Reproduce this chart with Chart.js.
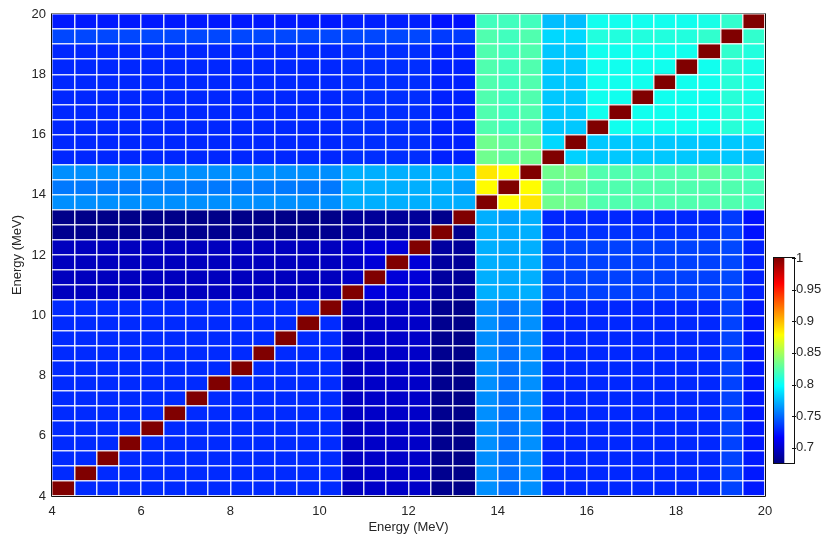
<!DOCTYPE html>
<html>
<head>
<meta charset="utf-8">
<script src="https://cdn.jsdelivr.net/npm/chart.js@4/dist/chart.umd.min.js"></script>
<style>
  html, body { margin: 0; padding: 0; background: #fff; overflow: hidden; }
  #wrap { position: relative; width: 821px; height: 536px; }
  #main { position: absolute; left: 0; top: 0; }
  #cbar { position: absolute; left: 766px; top: 240px; }
</style>
</head>
<body>
<div id="wrap">
  <canvas id="main" width="821" height="536"></canvas>
  <canvas id="cbar" width="55" height="240"></canvas>
</div>
<script>
// ---- data ----
const energyEdges = [4,4.5,5,5.5,6,6.5,7,7.5,8,8.5,9,9.5,10,10.5,11,11.5,12,12.5,13,13.5,14,14.5,15,15.5,16,16.5,17,17.5,18,18.5,19,19.5,20];
const axisTickLabels = [4,6,8,10,12,14,16,18,20];
const colorbarRange = [0.676, 1];
const colorbarTicks = [0.7,0.75,0.8,0.85,0.9,0.95,1];
const xTitle = 'Energy (MeV)';
const yTitle = 'Energy (MeV)';

// correlation matrix, row = y bin (4 MeV at bottom), column = x bin
const corr = [
 [1,.730,.730,.730,.730,.730,.730,.730,.730,.730,.730,.730,.730,.697,.699,.699,.699,.681,.679,.762,.752,.762,.729,.729,.729,.729,.729,.729,.729,.729,.737,.724],
 [.730,1,.730,.730,.730,.730,.730,.730,.730,.730,.730,.730,.730,.697,.699,.699,.699,.681,.679,.762,.752,.762,.729,.729,.729,.729,.729,.729,.729,.729,.737,.724],
 [.730,.730,1,.730,.730,.730,.730,.730,.730,.730,.730,.730,.730,.697,.699,.699,.699,.681,.679,.762,.752,.762,.729,.729,.729,.729,.729,.729,.729,.729,.737,.724],
 [.730,.730,.730,1,.730,.730,.730,.730,.730,.730,.730,.730,.730,.697,.699,.699,.699,.681,.679,.762,.752,.762,.729,.729,.729,.729,.729,.729,.729,.729,.737,.724],
 [.730,.730,.730,.730,1,.730,.730,.730,.730,.730,.730,.730,.730,.697,.699,.699,.699,.681,.679,.762,.752,.762,.729,.729,.729,.729,.729,.729,.729,.729,.737,.724],
 [.730,.730,.730,.730,.730,1,.730,.730,.730,.730,.730,.730,.730,.697,.699,.699,.699,.681,.679,.762,.752,.762,.729,.729,.729,.729,.729,.729,.729,.729,.737,.724],
 [.730,.730,.730,.730,.730,.730,1,.730,.730,.730,.730,.730,.730,.697,.699,.699,.699,.681,.679,.762,.752,.762,.729,.729,.729,.729,.729,.729,.729,.729,.737,.724],
 [.730,.730,.730,.730,.730,.730,.730,1,.730,.730,.730,.730,.730,.697,.699,.699,.699,.681,.679,.762,.752,.762,.729,.729,.729,.729,.729,.729,.729,.729,.737,.724],
 [.730,.730,.730,.730,.730,.730,.730,.730,1,.730,.730,.730,.730,.697,.699,.699,.699,.681,.679,.762,.752,.762,.729,.729,.729,.729,.729,.729,.729,.729,.737,.724],
 [.730,.730,.730,.730,.730,.730,.730,.730,.730,1,.730,.730,.730,.697,.699,.699,.699,.681,.679,.762,.752,.762,.729,.729,.729,.729,.729,.729,.729,.729,.737,.724],
 [.730,.730,.730,.730,.730,.730,.730,.730,.730,.730,1,.730,.730,.697,.699,.699,.699,.681,.679,.762,.752,.762,.729,.729,.729,.729,.729,.729,.729,.729,.737,.724],
 [.730,.730,.730,.730,.730,.730,.730,.730,.730,.730,.730,1,.730,.697,.699,.699,.699,.681,.679,.762,.752,.762,.729,.729,.729,.729,.729,.729,.729,.729,.737,.724],
 [.730,.730,.730,.730,.730,.730,.730,.730,.730,.730,.730,.730,1,.697,.699,.699,.699,.681,.679,.762,.752,.762,.729,.729,.729,.729,.729,.729,.729,.729,.737,.724],
 [.696,.696,.696,.696,.696,.696,.696,.696,.696,.696,.696,.696,.696,1,.706,.704,.701,.686,.684,.772,.770,.772,.737,.737,.737,.737,.737,.737,.737,.737,.739,.727],
 [.696,.696,.696,.696,.696,.696,.696,.696,.696,.696,.696,.696,.696,.699,1,.704,.704,.686,.684,.772,.770,.772,.737,.737,.737,.737,.737,.737,.737,.737,.739,.727],
 [.696,.696,.696,.696,.696,.696,.696,.696,.696,.696,.696,.696,.696,.699,.704,1,.704,.686,.684,.772,.770,.772,.737,.737,.737,.737,.737,.737,.737,.737,.739,.727],
 [.696,.696,.696,.696,.696,.696,.696,.696,.696,.696,.696,.696,.696,.701,.706,.704,1,.686,.684,.772,.770,.772,.737,.737,.737,.737,.737,.737,.737,.737,.739,.727],
 [.681,.681,.681,.681,.681,.681,.681,.681,.681,.681,.681,.681,.681,.686,.686,.686,.686,1,.681,.772,.770,.772,.732,.732,.732,.732,.732,.732,.732,.732,.737,.722],
 [.679,.679,.679,.679,.679,.679,.679,.679,.679,.679,.679,.679,.679,.684,.684,.684,.684,.680,1,.772,.767,.772,.729,.729,.729,.729,.729,.729,.729,.729,.735,.722],
 [.762,.762,.762,.762,.762,.762,.762,.762,.762,.762,.762,.762,.762,.772,.772,.772,.772,.772,.772,1,.879,.886,.833,.833,.823,.823,.823,.823,.823,.823,.823,.818],
 [.755,.755,.755,.755,.755,.755,.755,.755,.755,.755,.755,.755,.755,.772,.772,.772,.772,.772,.767,.879,1,.879,.828,.828,.823,.823,.823,.823,.823,.823,.823,.820],
 [.762,.762,.762,.762,.762,.762,.762,.762,.762,.762,.762,.762,.762,.772,.772,.772,.772,.772,.772,.886,.879,1,.833,.835,.823,.823,.823,.823,.823,.828,.823,.818],
 [.729,.729,.729,.729,.729,.729,.729,.729,.729,.729,.729,.729,.729,.731,.731,.731,.731,.727,.727,.833,.828,.833,1,.783,.780,.780,.780,.780,.780,.780,.780,.777],
 [.729,.729,.729,.729,.729,.729,.729,.729,.729,.729,.729,.729,.729,.731,.731,.731,.731,.727,.727,.833,.828,.833,.785,1,.780,.780,.780,.780,.780,.780,.780,.780],
 [.729,.729,.729,.729,.729,.729,.729,.729,.729,.729,.729,.729,.729,.731,.731,.731,.731,.727,.727,.823,.818,.823,.780,.780,1,.803,.803,.803,.803,.803,.810,.805],
 [.729,.729,.729,.729,.729,.729,.729,.729,.729,.729,.729,.729,.729,.731,.731,.731,.731,.727,.727,.823,.818,.823,.780,.780,.803,1,.803,.803,.803,.803,.810,.805],
 [.729,.729,.729,.729,.729,.729,.729,.729,.729,.729,.729,.729,.729,.731,.731,.731,.731,.727,.727,.823,.818,.823,.780,.780,.803,.803,1,.803,.803,.803,.810,.805],
 [.729,.729,.729,.729,.729,.729,.729,.729,.729,.729,.729,.729,.729,.731,.731,.731,.731,.727,.727,.823,.818,.823,.780,.780,.803,.803,.803,1,.803,.803,.810,.805],
 [.729,.729,.729,.729,.729,.729,.729,.729,.729,.729,.729,.729,.729,.731,.731,.731,.731,.727,.727,.823,.818,.823,.780,.780,.803,.803,.803,.803,1,.803,.810,.805],
 [.729,.729,.729,.729,.729,.729,.729,.729,.729,.729,.729,.729,.729,.731,.731,.731,.731,.727,.727,.823,.818,.823,.780,.780,.803,.803,.803,.803,.803,1,.813,.808],
 [.739,.739,.739,.739,.739,.739,.739,.739,.739,.739,.739,.739,.739,.739,.739,.739,.739,.735,.735,.823,.818,.823,.785,.785,.808,.808,.808,.808,.808,.813,1,.813],
 [.724,.724,.724,.724,.724,.724,.724,.724,.724,.724,.724,.724,.724,.726,.726,.726,.726,.722,.722,.818,.818,.818,.777,.777,.803,.803,.803,.803,.803,.805,.813,1]
];

// ---- jet colormap ----
function clamp01(v){ return Math.max(0, Math.min(1, v)); }
function jetRGB(t){
  t = clamp01(t);
  return [clamp01(1.5 - Math.abs(4*t - 3)), clamp01(1.5 - Math.abs(4*t - 2)), clamp01(1.5 - Math.abs(4*t - 1))];
}
function jetCss(t){
  const c = jetRGB(t);
  return 'rgb(' + Math.round(c[0]*255) + ',' + Math.round(c[1]*255) + ',' + Math.round(c[2]*255) + ')';
}
function valueColor(v){
  return jetCss((v - colorbarRange[0]) / (colorbarRange[1] - colorbarRange[0]));
}

Chart.defaults.font.family = '"Liberation Sans", Arial, Helvetica, sans-serif';
Chart.defaults.font.size = 13;
Chart.defaults.color = '#262626';

// ---- main heatmap ----
const datasets = corr.map((row, r) => ({
  data: row.map((v, c) => ({ x: (energyEdges[c] + energyEdges[c + 1]) / 2, y: [energyEdges[r], energyEdges[r + 1]], v: v })),
  backgroundColor: row.map(valueColor),
  borderWidth: 0,
  barPercentage: 1,
  categoryPercentage: 1,
  grouped: false
}));

const boxPlugin = {
  id: 'box',
  afterDraw(chart){
    const a = chart.chartArea, ctx = chart.ctx;
    const l = Math.round(a.left) - 0.5, t = Math.round(a.top) - 0.5;
    const r = Math.round(a.right) + 0.5, b = Math.round(a.bottom) + 0.5;
    ctx.save();
    ctx.lineWidth = 1;
    ctx.strokeStyle = '#888';
    ctx.beginPath(); ctx.moveTo(l, t); ctx.lineTo(r, t); ctx.stroke();
    ctx.strokeStyle = '#111';
    ctx.beginPath(); ctx.moveTo(r, t); ctx.lineTo(r, b); ctx.lineTo(l, b); ctx.lineTo(l, t); ctx.stroke();
    ctx.restore();
  }
};

const gridStyle = { z: 1, color: 'rgba(255,255,255,0.85)', lineWidth: 1.5, drawTicks: false, offset: false };
const tickCb = v => axisTickLabels.includes(v) ? String(v) : '';

new Chart(document.getElementById('main'), {
  type: 'bar',
  data: { datasets },
  options: {
    responsive: false,
    animation: false,
    events: [],
    devicePixelRatio: 1,
    layout: { padding: { left: 0, top: 14, right: 56, bottom: 0 } },
    plugins: { legend: { display: false }, tooltip: { enabled: false } },
    scales: {
      x: {
        type: 'linear', min: 4, max: 20, offset: false,
        grid: gridStyle, border: { display: false },
        ticks: { stepSize: 0.5, autoSkip: false, maxRotation: 0, padding: 8, callback: tickCb },
        title: { display: true, text: xTitle, padding: { top: 0, bottom: 1 } },
        afterFit(s){ s.height = 40; }
      },
      y: {
        type: 'linear', min: 4, max: 20,
        grid: gridStyle, border: { display: false },
        ticks: { stepSize: 0.5, autoSkip: false, padding: 6, callback: tickCb },
        title: { display: true, text: yTitle, padding: { top: 10, bottom: 0 } },
        afterFit(s){ s.width = 52; }
      }
    }
  },
  plugins: [boxPlugin]
});

// ---- colorbar ----
const cbBox = {
  id: 'cbBox',
  afterDraw(chart){
    const a = chart.chartArea, ctx = chart.ctx;
    const ys = chart.scales.y;
    ctx.save();
    ctx.strokeStyle = '#111';
    ctx.lineWidth = 1;
    const R = Math.round(a.right);
    ctx.strokeRect(Math.round(a.left) - 0.5, Math.round(a.top) - 0.5, R - Math.round(a.left) + 1, Math.round(a.bottom - a.top) + 1);
    ys.ticks.forEach(t => {
      const y = Math.round(ys.getPixelForValue(t.value)) + 0.5;
      ctx.beginPath(); ctx.moveTo(R - 2, y); ctx.lineTo(R + 2, y); ctx.stroke();
    });
    ctx.restore();
  }
};

new Chart(document.getElementById('cbar'), {
  type: 'bar',
  data: {
    labels: [''],
    datasets: [{
      data: [[colorbarRange[0], colorbarRange[1]]],
      borderWidth: 0,
      barPercentage: 1,
      categoryPercentage: 1,
      backgroundColor(ctx){
        const chart = ctx.chart, a = chart.chartArea;
        if (!a) return '#000';
        const ys = chart.scales.y;
        const y0 = ys.getPixelForValue(colorbarRange[0]);
        const y1 = ys.getPixelForValue(colorbarRange[1]);
        const g = chart.ctx.createLinearGradient(0, y0, 0, y1);
        const stops = [0, 0.125, 0.375, 0.625, 0.875, 1];
        stops.forEach(s => g.addColorStop(s, jetCss(s)));
        return g;
      }
    }]
  },
  options: {
    responsive: false,
    animation: false,
    events: [],
    devicePixelRatio: 1,
    layout: { padding: { left: 8, top: 18, right: 0, bottom: 17 } },
    plugins: { legend: { display: false }, tooltip: { enabled: false } },
    scales: {
      x: { display: false, offset: false, grid: { offset: false } },
      y: {
        position: 'right', min: colorbarRange[0], max: colorbarRange[1],
        grid: { drawOnChartArea: false, drawTicks: false },
        border: { display: false },
        ticks: { stepSize: 0.05, includeBounds: false, padding: 2,
                 callback: v => { const r = Math.round(v * 100) / 100; return colorbarTicks.includes(r) ? String(r) : ''; } },
        afterFit(s){ s.width = 27; }
      }
    }
  },
  plugins: [cbBox]
});
</script>
</body>
</html>
